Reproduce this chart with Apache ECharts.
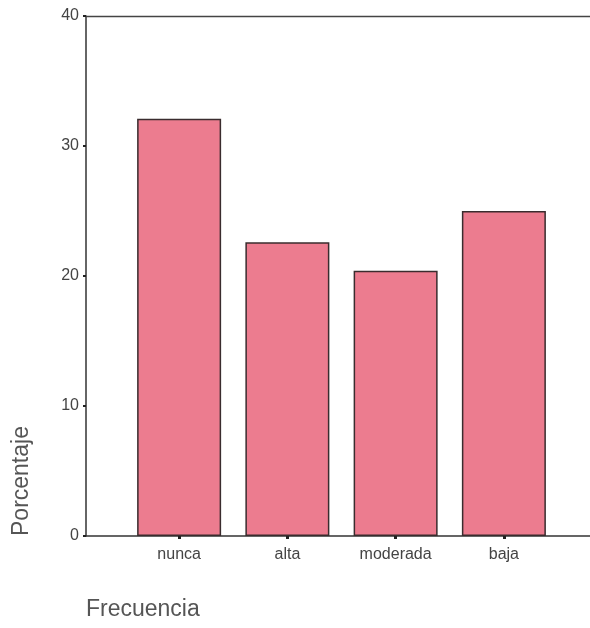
<!DOCTYPE html>
<html><head><meta charset="utf-8">
<script src="https://cdn.jsdelivr.net/npm/echarts@6/dist/echarts.min.js"></script>
<style>html,body{margin:0;padding:0;background:#fff}#c{width:590px;height:628px}</style>
</head><body><div id="c"></div>
<script>
var categories = ['nunca', 'alta', 'moderada', 'baja'];
var porcentaje = [32.1, 22.6, 20.4, 25.0];
var yTicks = [0, 10, 20, 30, 40];

var chart = echarts.init(document.getElementById('c'));
var axisColor = '#333';
var font = 'Liberation Sans, Arial, sans-serif';
chart.setOption({
  animation: false,
  grid: [
    {left: 86, right: 0, top: 16, bottom: 92},
    {left: 125, width: 433, top: 16, bottom: 92}
  ],
  xAxis: [
    {gridIndex: 0, type: 'category', data: categories, position: 'bottom',
     axisLine: {show: true, lineStyle: {color: axisColor, width: 1.5}},
     axisTick: {show: false}, axisLabel: {show: false}, splitLine: {show: false}},
    {gridIndex: 0, type: 'category', data: categories, position: 'top',
     axisLine: {show: true, lineStyle: {color: '#444', width: 1.3}},
     axisTick: {show: false}, axisLabel: {show: false}, splitLine: {show: false}},
    {gridIndex: 1, type: 'category', data: categories, position: 'bottom',
     axisLine: {show: false},
     axisTick: {show: true, alignWithLabel: true, length: 3, lineStyle: {color: '#222', width: 3}},
     axisLabel: {color: '#444', fontSize: 16, fontFamily: font, margin: 11},
     splitLine: {show: false}}
  ],
  yAxis: [
    {gridIndex: 0, type: 'value', min: 0, max: 40, interval: 10,
     axisLine: {show: true, lineStyle: {color: axisColor, width: 1.5}},
     axisTick: {show: true, length: 3, inside: false, lineStyle: {color: '#222', width: 2}},
     axisLabel: {color: '#444', fontSize: 16, fontFamily: font, margin: 7},
     splitLine: {show: false}},
    {gridIndex: 1, type: 'value', min: 0, max: 40, interval: 10, show: false,
     splitLine: {show: false}}
  ],
  series: [{
    type: 'bar', xAxisIndex: 2, yAxisIndex: 1, data: porcentaje, barWidth: 84,
    itemStyle: {color: '#ec7c8f', borderColor: '#3a2c2e', borderWidth: 1.5}
  }],
  graphic: [
    {type: 'text', left: 86, top: 598,
     style: {text: 'Frecuencia', fill: '#555', font: '23px ' + font}},
    {type: 'text', x: 10, y: 536, rotation: Math.PI / 2,
     style: {text: 'Porcentaje', fill: '#555', font: '23px ' + font}}
  ]
});
</script></body></html>
